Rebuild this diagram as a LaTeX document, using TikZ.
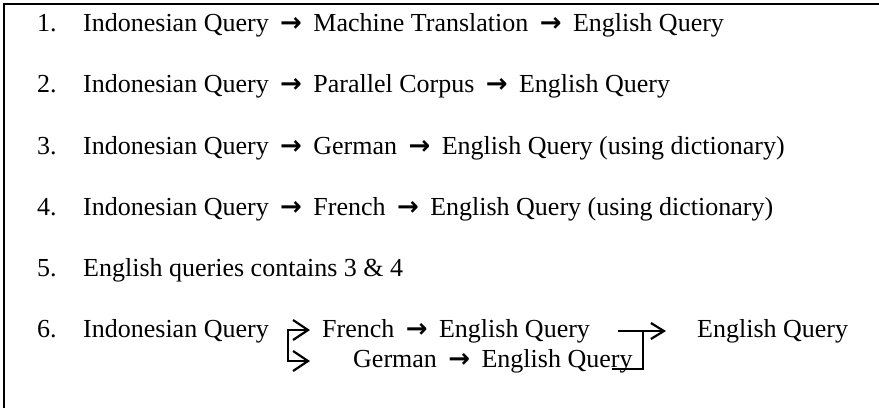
\documentclass[tikz,border=0pt]{standalone}
\usepackage{fontspec}
\setmainfont{Liberation Serif}
\newfontfamily\arwfont{DejaVu Sans}
\usetikzlibrary{arrows.meta}
\newcommand\arw{\hspace{0.44em}{\arwfont\bfseries →}\hspace{0.44em}}
\tikzset{barbtip/.tip={Straight Barb[length=15pt,width=20pt]},
         smallbarb/.tip={Straight Barb[length=13pt,width=16pt]}}
\begin{document}
\begin{tikzpicture}[x=1pt,y=-1pt,
  txt/.style={anchor=base west, inner sep=0pt, font=\fontsize{26}{30}\selectfont},
  frameline/.style={line width=2pt},
  brline/.style={line width=2.2pt}]
\useasboundingbox (0,0) rectangle (879,408);
\coordinate (fa) at (3,4);
\coordinate (fb) at (879,4);
\coordinate (fc) at (4,3);
\coordinate (fd) at (4,408);
\draw[frameline] (fa) -- (fb);
\draw[frameline] (fc) -- (fd);
% items 1-5
\node[txt] (n1) at (37,31) {1.};
\node[txt] (t1) at (83,31) {Indonesian Query\arw Machine Translation\arw English Query};
\node[txt] (n2) at (37,92) {2.};
\node[txt] (t2) at (83,92) {Indonesian Query\arw Parallel Corpus\arw English Query};
\node[txt] (n3) at (37,154) {3.};
\node[txt] (t3) at (83,154) {Indonesian Query\arw German\arw English Query (using dictionary)};
\node[txt] (n4) at (37,215) {4.};
\node[txt] (t4) at (83,215) {Indonesian Query\arw French\arw English Query (using dictionary)};
\node[txt] (n5) at (37,276) {5.};
\node[txt] (t5) at (83,276) {English queries contains 3 \& 4};
% item 6
\node[txt] (n6) at (37,337) {6.};
\node[txt] (iq) at (83,337) {Indonesian Query};
\node[txt] (fr) at (322,337) {French\arw English Query};
\node[txt] (ge) at (353,367) {German\arw English Query};
\node[txt] (eq) at (697,337) {English Query};
% left bracket
\coordinate (la) at (310,330);
\coordinate (lb) at (288,330);
\coordinate (lc) at (288,361);
\coordinate (ld) at (310,361);
\draw[brline,{barbtip}-{barbtip}] (la) -- (lb) -- (lc) -- (ld);
% right bracket
\coordinate (ra) at (618,331);
\coordinate (rb) at (666,331);
\coordinate (rc) at (643,331);
\coordinate (rd) at (643,369);
\coordinate (re) at (612,369);
\draw[brline,-{smallbarb}] (ra) -- (rb);
\draw[brline] (re) -- (rd) -- (rc);
\end{tikzpicture}
\end{document}
